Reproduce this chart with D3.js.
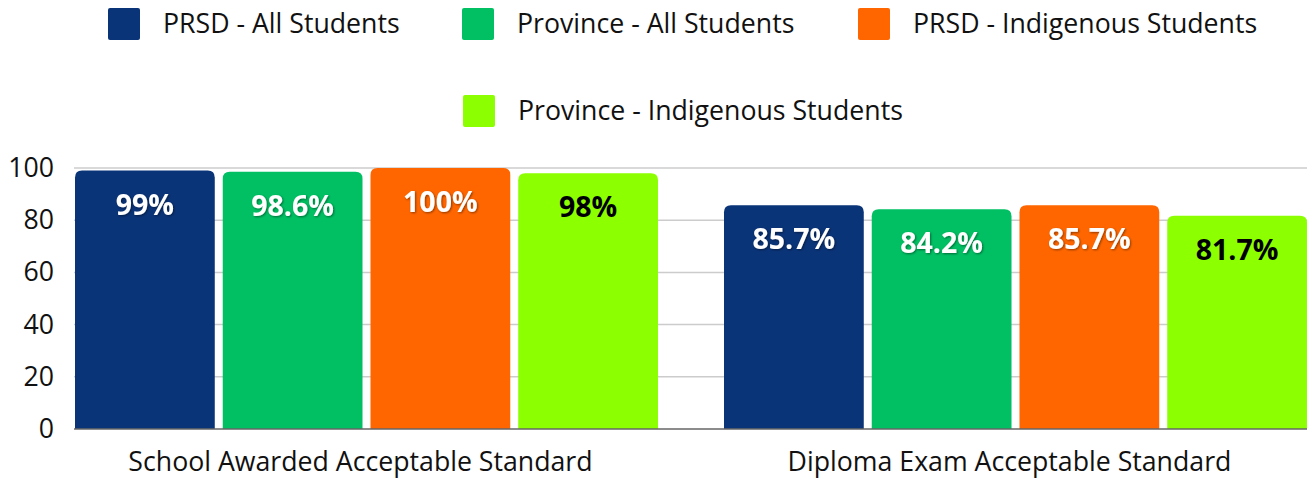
<!DOCTYPE html>
<html>
<head>
<script src="https://d3js.org/d3.v7.min.js"></script>
<style>
  body { margin: 0; background: #fff; }
  svg { font-family: "Open Sans", sans-serif; }
</style>
</head>
<body>
<script>
// chart data
const categories = ["School Awarded Acceptable Standard", "Diploma Exam Acceptable Standard"];
const seriesNames = ["PRSD - All Students", "Province - All Students", "PRSD - Indigenous Students", "Province - Indigenous Students"];
const seriesColors = ["#0a3478", "#00c063", "#ff6600", "#8cff00"];
const prsdAll = [99, 85.7];
const provinceAll = [98.6, 84.2];
const prsdIndigenous = [100, 85.7];
const provinceIndigenous = [98, 81.7];
const valueLabels = [["99%", "85.7%"], ["98.6%", "84.2%"], ["100%", "85.7%"], ["98%", "81.7%"]];
const yTicks = [0, 20, 40, 60, 80, 100];

const W = 1307, H = 478;
const values = [prsdAll, provinceAll, prsdIndigenous, provinceIndigenous];

let svg = d3.select("body").append("svg")
  .attr("width", W).attr("height", H);

let y = d3.scaleLinear().domain([0, 100]).range([429, 168]);
let x0 = d3.scaleBand().domain(categories).range([75, 1307]).paddingInner(0.1017).paddingOuter(0);
let x1 = d3.scaleBand().domain(seriesNames).range([0, x0.bandwidth()]).paddingInner(0.054).paddingOuter(0);

// shadow for white labels
let defs = svg.append("defs");
let f = defs.append("filter").attr("id", "shadow").attr("x", "-20%").attr("y", "-20%").attr("width", "140%").attr("height", "140%");
f.append("feDropShadow").attr("dx", 1).attr("dy", 1).attr("stdDeviation", 1.2).attr("flood-color", "#000").attr("flood-opacity", 0.45);

// gridlines
svg.append("g")
  .selectAll("line").data(yTicks.filter(t => t > 0)).enter()
  .append("line")
  .attr("x1", 74).attr("x2", W)
  .attr("y1", d => y(d)).attr("y2", d => y(d))
  .attr("stroke", "#cccccc").attr("stroke-width", 1.5);

// y axis labels
let yAxis = svg.append("g")
  .attr("transform", "translate(62,0)")
  .call(d3.axisLeft(y).tickValues(yTicks).tickSize(0).tickPadding(8));
yAxis.select(".domain").remove();
yAxis.selectAll("text").style("font-size", "26.7px").style("font-family", "Open Sans").attr("fill", "#111");

// bars with rounded tops
let r = 7;
let barPath = (x, yt, w, yb) => {
  let rr = Math.min(r, (yb - yt));
  return `M${x},${yb} L${x},${yt + rr} Q${x},${yt} ${x + rr},${yt} L${x + w - rr},${yt} Q${x + w},${yt} ${x + w},${yt + rr} L${x + w},${yb} Z`;
};

let groups = svg.append("g").selectAll("g")
  .data(categories).enter()
  .append("g")
  .attr("transform", d => `translate(${x0(d)},0)`);

groups.each(function(cat, ci) {
  let g = d3.select(this);
  seriesNames.forEach((s, si) => {
    let v = values[si][ci];
    g.append("path")
      .attr("d", barPath(x1(s), y(v), x1.bandwidth(), y(0)))
      .attr("fill", seriesColors[si]);
    let dark = si < 3;
    g.append("text")
      .attr("x", x1(s) + x1.bandwidth() / 2)
      .attr("y", y(v) + 34)
      .attr("dy", "0.35em")
      .attr("text-anchor", "middle")
      .style("font-size", "28.5px")
      .style("font-weight", "bold")
      .attr("fill", dark ? "#fff" : "#000")
      .attr("filter", dark ? "url(#shadow)" : null)
      .text(valueLabels[si][ci]);
  });
});

// baseline
svg.append("line")
  .attr("x1", 74).attr("x2", W)
  .attr("y1", y(0)).attr("y2", y(0))
  .attr("stroke", "#666").attr("stroke-width", 1.5);

// category labels
svg.append("g").selectAll("text")
  .data(categories).enter()
  .append("text")
  .attr("x", d => x0(d) + x0.bandwidth() / 2 - 6)
  .attr("y", 462)
  .attr("dy", "0.35em")
  .attr("text-anchor", "middle")
  .style("font-size", "26.7px")
  .attr("fill", "#111")
  .text(d => d);

// legend
let legendPos = [[108, 24], [462, 24], [858, 24], [463, 111]];
let legend = svg.append("g").selectAll("g")
  .data(seriesNames).enter()
  .append("g")
  .attr("transform", (d, i) => `translate(${legendPos[i][0]},${legendPos[i][1]})`);
legend.append("rect")
  .attr("x", 0).attr("y", -16).attr("width", 32).attr("height", 32).attr("rx", 2)
  .attr("fill", (d, i) => seriesColors[i]);
legend.append("text")
  .attr("x", 55).attr("y", 0).attr("dy", "0.35em")
  .style("font-size", "26.7px")
  .attr("fill", "#111")
  .text(d => d);
</script>
</body>
</html>
